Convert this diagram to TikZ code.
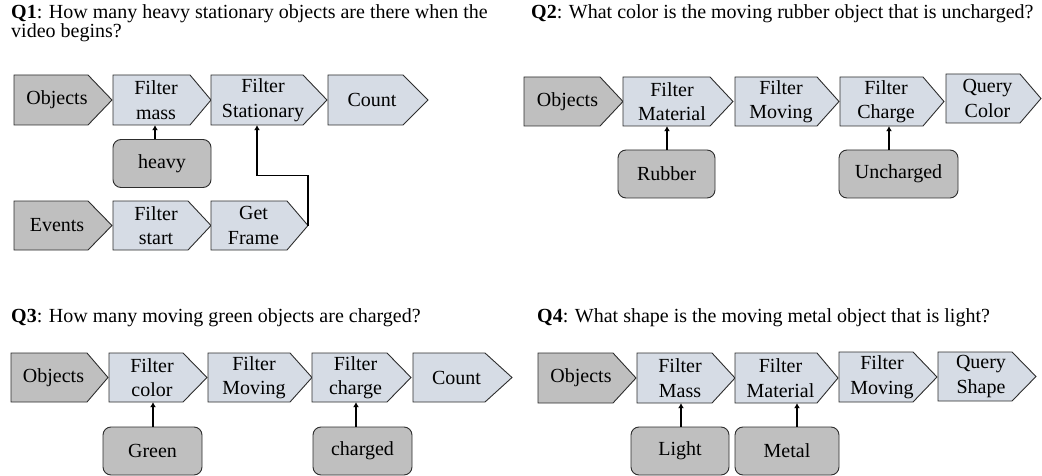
\documentclass[tikz,border=0pt]{standalone}
\usepackage{fontspec}
\setmainfont{Liberation Serif}
\usetikzlibrary{arrows.meta,calc}

\definecolor{opgray}{RGB}{191,191,191}
\definecolor{opblue}{RGB}{214,220,229}
\definecolor{opedge}{RGB}{45,45,45}

\tikzset{
  stepedge/.style={draw=opedge, line width=0.9pt, line join=miter},
  steptext/.style={inner sep=0pt, align=center, text=black,
                   font=\fontsize{20}{24.5}\selectfont, minimum width=10pt},
  argbox/.style={draw=opedge, line width=0.9pt, fill=opgray, rounded corners=8pt,
                 inner sep=0pt, minimum height=48pt, text=black,
                 font=\fontsize{20}{24}\selectfont},
  conn/.style={draw=black, line width=1.7pt, -{Latex[length=5pt,width=6pt]}},
  qtext/.style={inner sep=0pt, anchor=base west, text=black,
                font=\fontsize{20}{24}\selectfont},
}

% pentagon step: name, left, top, bottom, tip x, tip depth, fill, label
\newcommand{\opstep}[8]{%
  \draw[stepedge, fill=#7] (#2,#3) -- (#5-#6,#3) -- (#5,{(#3+#4)/2})
        -- (#5-#6,#4) -- (#2,#4) -- cycle;
  \node[steptext, minimum height={(#4-#3)*1pt}] (#1) at ({(#2+#5)/2-6},{(#3+#4)/2}) {#8};
  \coordinate (#1-tip) at (#5,{(#3+#4)/2});
}

\begin{document}
\begin{tikzpicture}[x=1pt, y=-1pt]
\useasboundingbox (0,0) rectangle (1042,476);

% ---------------- Q1 ----------------
\node[qtext] (q1a) at (11,19) {\textbf{Q1}: How many heavy stationary objects are there when the};
\node[qtext] (q1b) at (11,38) {video begins?};

\opstep{a-obj}{14}{75}{125}{112}{24}{opgray}{Objects}
\opstep{a-fm}{113}{75}{125}{211}{21}{opblue}{Filter\\mass}
\opstep{a-fs}{211}{75}{125}{327}{24}{opblue}{Filter\\Stationary}
\opstep{a-cnt}{328}{75}{125}{428}{25}{opblue}{Count}

\node[argbox, minimum width=98pt] (a-heavy) at (162,163.5) {heavy};

\opstep{a-ev}{14}{201}{250}{112}{24}{opgray}{Events}
\opstep{a-fst}{113}{201}{250}{211}{23}{opblue}{Filter\\start}
\opstep{a-gf}{211}{201}{250}{308}{21}{opblue}{Get\\Frame}

\coordinate (a-h) at ([xshift=-7pt]a-heavy.north);
\draw[conn] (a-h) -- (a-h |- a-fm.south);
\coordinate (a-s) at ([xshift=-6pt]a-fs.south);
\draw[conn, line join=miter] (a-gf-tip) -- ++(0,-50) -| (a-s);

% ---------------- Q2 ----------------
\node[qtext] (q2) at (531,19) {\textbf{Q2}: What color is the moving rubber object that is uncharged?};

\opstep{b-obj}{524}{77}{126}{623}{23}{opgray}{Objects}
\opstep{b-fmat}{623}{77}{126}{733}{23}{opblue}{Filter\\Material}
\opstep{b-fmov}{735}{77}{126}{839}{22}{opblue}{Filter\\Moving}
\opstep{b-fch}{840}{77}{126}{944}{21}{opblue}{Filter\\Charge}
\opstep{b-qc}{946}{74}{123}{1041}{21}{opblue}{Query\\Color}

\node[argbox, minimum width=97pt] (b-rub) at (666.5,174) {Rubber};
\node[argbox, minimum width=119pt] (b-unch) at (898.5,174) {Uncharged};

\coordinate (b-r) at ([xshift=0.5pt]b-rub.north);
\draw[conn] (b-r) -- (b-r |- b-fmat.south);
\coordinate (b-u) at ([xshift=-9.5pt]b-unch.north);
\draw[conn] (b-u) -- (b-u |- b-fch.south);

% ---------------- Q3 ----------------
\node[qtext] (q3) at (11,322) {\textbf{Q3}: How many moving green objects are charged?};

\opstep{c-obj}{11}{353}{402}{108}{21}{opgray}{Objects}
\opstep{c-fcol}{109}{353}{402}{207}{24}{opblue}{Filter\\color}
\opstep{c-fmov}{208}{353}{402}{312}{22}{opblue}{Filter\\Moving}
\opstep{c-fch}{312}{353}{402}{411}{24}{opblue}{Filter\\charge}
\opstep{c-cnt}{413}{353}{402}{512}{27}{opblue}{Count}

\node[argbox, minimum width=99pt] (c-green) at (152.5,451) {Green};
\node[argbox, minimum width=99pt] (c-chg) at (362.5,451) {charged};

\coordinate (c-g) at ([xshift=0.5pt]c-green.north);
\draw[conn] (c-g) -- (c-g |- c-fcol.south);
\coordinate (c-c) at ([xshift=-6.5pt]c-chg.north);
\draw[conn] (c-c) -- (c-c |- c-fch.south);

% ---------------- Q4 ----------------
\node[qtext] (q4) at (537,322) {\textbf{Q4}: What shape is the moving metal object that is light?};

\opstep{d-obj}{538}{353}{403}{636}{23}{opgray}{Objects}
\opstep{d-fmass}{637}{353}{403}{735}{23}{opblue}{Filter\\Mass}
\opstep{d-fmat}{735}{353}{403}{838}{21}{opblue}{Filter\\Material}
\opstep{d-fmov}{839}{352}{402}{937}{24}{opblue}{Filter\\Moving}
\opstep{d-qs}{938}{352}{401}{1036}{24}{opblue}{Query\\Shape}

\node[argbox, minimum width=98pt] (d-light) at (680,451) {Light};
\node[argbox, minimum width=104pt] (d-metal) at (787,451) {Metal};

\coordinate (d-l) at ([xshift=1pt]d-light.north);
\draw[conn] (d-l) -- (d-l |- d-fmass.south);
\coordinate (d-m) at ([xshift=10pt]d-metal.north);
\draw[conn] (d-m) -- (d-m |- d-fmat.south);

\end{tikzpicture}
\end{document}
